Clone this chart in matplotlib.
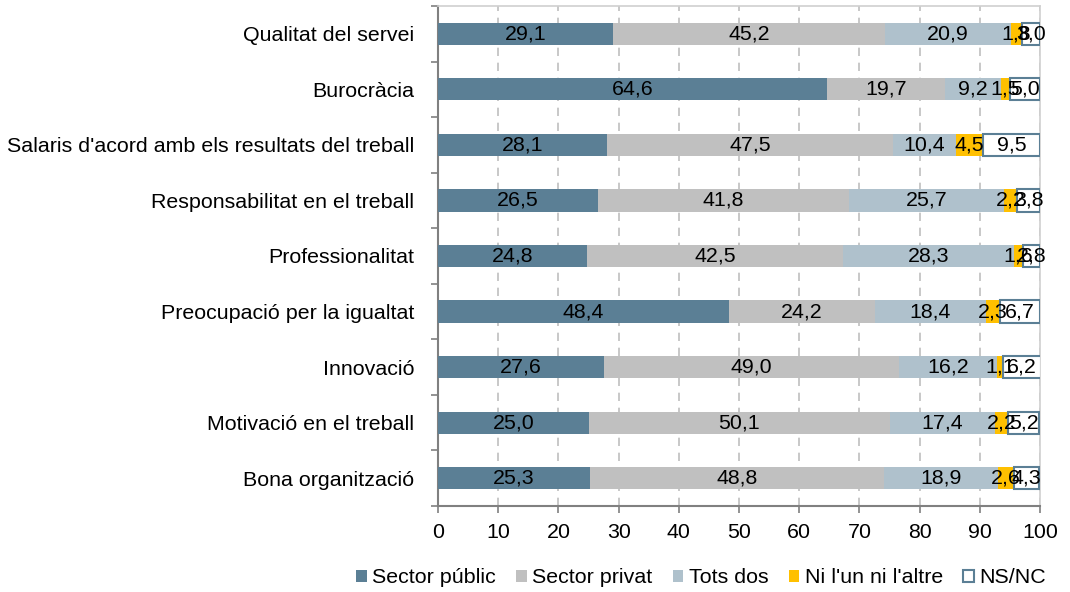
import matplotlib
matplotlib.use("Agg")
import matplotlib.pyplot as plt
from matplotlib.ticker import FixedLocator
import numpy as np

plt.rcParams['font.family'] = ['Liberation Sans', 'DejaVu Sans']

categories = ["Qualitat del servei", "Burocràcia",
              "Salaris d'acord amb els resultats del treball",
              "Responsabilitat en el treball", "Professionalitat",
              "Preocupació per la igualtat", "Innovació",
              "Motivació en el treball", "Bona organització"]
series_names = ["Sector públic", "Sector privat", "Tots dos",
                "Ni l'un ni l'altre", "NS/NC"]
sector_public = [29.1, 64.6, 28.1, 26.5, 24.8, 48.4, 27.6, 25.0, 25.3]
sector_privat = [45.2, 19.7, 47.5, 41.8, 42.5, 24.2, 49.0, 50.1, 48.8]
tots_dos      = [20.9, 9.2, 10.4, 25.7, 28.3, 18.4, 16.2, 17.4, 18.9]
ni_un_ni_altre = [1.8, 1.5, 4.5, 2.2, 1.6, 2.3, 1.1, 2.2, 2.6]
ns_nc         = [3.0, 5.0, 9.5, 3.8, 2.8, 6.7, 6.2, 5.2, 4.3]
xticks = [0, 10, 20, 30, 40, 50, 60, 70, 80, 90, 100]

data = [sector_public, sector_privat, tots_dos, ni_un_ni_altre, ns_nc]
facecolors = ["#5B7F95", "#C0C0C0", "#AFC1CC", "#FFC000", "#FFFFFF"]
edgecolors = ["none", "none", "none", "none", "#5B7F95"]

FS = 15.4

fig = plt.figure(figsize=(10.7, 5.92), dpi=100)
ax = fig.add_axes([438/1070, 1-506/592, (1040-438)/1070, 500/592])

y = np.arange(len(categories))
left = np.zeros(len(categories))
handles = []
for vals, name, fc, ec in zip(data, series_names, facecolors, edgecolors):
    vals = np.array(vals)
    lw = 1.5 if ec != "none" else 0
    h = ax.barh(y, vals, left=left, height=0.4, color=fc, edgecolor=ec,
                linewidth=lw, label=name, zorder=3)
    handles.append(h)
    for yi, l, v in zip(y, left, vals):
        ax.text(l + v/2, yi, f"{v:.1f}".replace(".", ","), ha="center",
                va="center", fontsize=FS, color="black", zorder=4)
    left = left + vals

ax.set_xlim(0, 100)
ax.set_ylim(len(categories)-0.5, -0.5)
ax.set_xticks(xticks)
ax.set_xticklabels([str(t) for t in xticks], fontsize=FS)
ax.set_yticks(y)
ax.set_yticklabels(categories, fontsize=FS)
ax.tick_params(axis='y', which='major', length=0, pad=17)
ax.yaxis.set_minor_locator(FixedLocator(np.arange(-0.5, len(categories), 1)))
ax.tick_params(axis='y', which='minor', length=5, color="#808080", width=1.2)
ax.tick_params(axis='x', length=5, color="#808080", width=1.2, pad=7)

ax.xaxis.grid(True, linestyle=(0, (5, 4)), color="#BFBFBF", linewidth=1.2, zorder=0)
ax.set_axisbelow(True)
for s in ["top", "right"]:
    ax.spines[s].set_color("#D0D0D0")
    ax.spines[s].set_linewidth(1.2)
for s in ["left", "bottom"]:
    ax.spines[s].set_color("#808080")
    ax.spines[s].set_linewidth(1.5)

leg = fig.legend(handles=handles, loc="center", bbox_to_anchor=(0.655, 0.024),
                 ncol=5, frameon=False, fontsize=FS, handlelength=0.5,
                 handleheight=0.5, handletextpad=0.25, columnspacing=0.95)

fig.savefig("out.png", dpi=100)
